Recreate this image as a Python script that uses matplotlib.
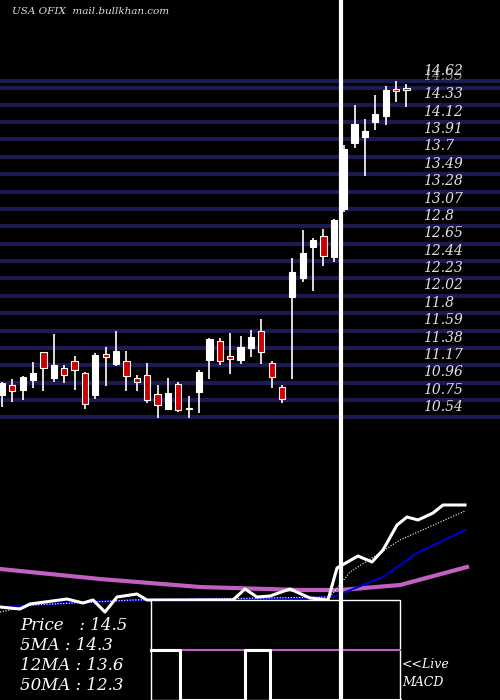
import matplotlib
matplotlib.use("Agg")
import matplotlib.pyplot as plt
import numpy as np

opens  = [10.709,10.830,10.770,10.890,11.228,10.915,11.035,11.120,10.975,10.709,11.204,11.084,11.120,10.915,10.951,10.721,10.540,10.842,10.540,10.746,
          11.132,11.361,11.180,11.132,11.277,11.482,11.096,10.806,11.892,12.122,12.496,12.628,12.375,12.954,13.751,13.824,14.004,14.077,14.403,14.415]
highs  = [10.866,10.902,10.939,11.108,11.228,11.446,11.072,11.180,10.987,11.216,11.289,11.482,11.241,10.951,11.096,10.830,10.915,10.866,10.697,11.011,
          11.397,11.397,11.458,11.421,11.494,11.627,11.120,10.830,12.363,12.701,12.604,12.713,12.834,13.727,14.210,14.041,14.330,14.439,14.499,14.463]
lows   = [10.565,10.625,10.649,10.794,10.758,10.866,10.854,10.770,10.540,10.661,10.818,11.059,10.758,10.758,10.613,10.432,10.540,10.504,10.432,10.492,
          10.902,11.072,10.963,11.084,11.168,11.084,10.794,10.613,10.902,12.073,11.965,12.266,12.315,12.918,13.691,13.353,13.908,13.968,14.246,14.186]
closes = [10.854,10.758,10.927,10.975,11.035,11.072,10.951,11.011,10.601,11.192,11.168,11.241,10.939,10.866,10.649,10.589,10.734,10.528,10.553,10.987,
          11.385,11.120,11.144,11.289,11.409,11.228,10.927,10.661,12.194,12.423,12.580,12.387,12.822,13.679,13.980,13.896,14.101,14.391,14.379,14.391]

price_labels = ["14.33","14.12","13.91","13.7","13.49","13.28","13.07","12.8","12.65","12.44",
                "12.23","12.02","11.8","11.59","11.38","11.17","10.96","10.75","10.54"]
top_grid = 14.213
grid_step = 0.2097
extra_lines = [14.50, 14.41]

# indicator panel (arbitrary units, x in pixel-like position units)
ma50_x = [0,100,200,300,340,400,467]
ma50_y = [131,121,113,110,110,115,133]
price_x = [0,20,30,67,83,93,105,117,137,147,233,245,257,270,290,310,328,337,358,372,383,397,407,418,433,443,465]
price_y = [93,91,96,101,97,100,88,103,106,100,100,111,103,104,111,102,100,132,144,138,150,175,183,180,187,195,195]
ma12_x = [0,67,133,300,333,383,417,465]
ma12_y = [93,97,100,102,103,123,147,170]
ma5_x = [0,33,133,330,350,400,465]
ma5_y = [88,95,100,103,128,160,189]
macd_x = [151,180,180,245,245,270,270,400]
macd_y = [50,50,0,0,50,50,0,0]
signal_y = 50

legend = ["Price   : 14.5", "5MA : 14.3", "12MA : 13.6", "50MA : 12.3"]

fig = plt.figure(figsize=(5,7), dpi=100, facecolor="black")
ax = fig.add_axes([0,0,1,1], facecolor="black")
sp = 10.37
ax.set_xlim(-2/sp, 498/sp)
ax.set_ylim(15.477-700/82.85, 15.477)
ax.axis("off")

for k in range(len(price_labels)):
    lv = top_grid - k*grid_step
    ax.axhline(lv, color="#1b1b52", lw=3, zorder=1)
    ax.text(423/sp*1 - 2/sp + 0, lv + 0.125, price_labels[k], color="#e0e0e0", fontsize=10,
            family="DejaVu Serif", style="italic", va="center", zorder=5)
for lv in extra_lines:
    ax.axhline(lv, color="#1b1b52", lw=3, zorder=1)
ax.text(421/sp, 14.62, "14.62", color="#e0e0e0", fontsize=10, family="DejaVu Serif", style="italic", va="center")
ax.text(421/sp, 14.56, "14.55", color="#e0e0e0", fontsize=10, family="DejaVu Serif", style="italic", va="center", alpha=0.6)

for i,(o,h,l,c) in enumerate(zip(opens,highs,lows,closes)):
    col = "white" if c >= o else "#cc0000"
    ax.vlines(i, l, h, color="white", lw=1.2, zorder=3)
    ax.bar(i, max(abs(c-o),0.015), bottom=min(o,c), width=0.6, color=col, edgecolor="white", lw=0.8, zorder=4)

ax.text(10/sp, 15.477-12/82.85, "USA OFIX  mail.bullkhan.com", color="#dddddd", fontsize=7.5,
        family="DejaVu Serif", style="italic", va="center")

ax2 = fig.add_axes([0,0,1,1], facecolor="none")
ax2.set_xlim(0,500); ax2.set_ylim(0,700)
ax2.axis("off")
ax2.plot(ma50_x, ma50_y, color="#c060c0", lw=3, zorder=2)
ax2.plot(ma12_x, ma12_y, color="#0000cc", lw=1.5, zorder=3)
ax2.plot(ma5_x, ma5_y, color="white", lw=0.8, ls=(0,(1,1.5)), zorder=3)
ax2.plot(price_x, price_y, color="white", lw=2.2, zorder=3)
ax2.add_patch(plt.Rectangle((151,0),249,100, facecolor="black", edgecolor="white", lw=1, zorder=5))
ax2.plot([151,400],[signal_y,signal_y], color="#c060c0", lw=1.5, zorder=6)
ax2.plot(macd_x, macd_y, color="white", lw=2.2, zorder=7)
ax2.axvline(341, color="white", lw=3, zorder=8)
for j,t in enumerate(legend):
    ax2.text(20, 75-20*j, t, color="white", fontsize=12, family="DejaVu Serif", style="italic", va="center", zorder=9)
ax2.text(402, 35, "<<Live", color="white", fontsize=9, family="DejaVu Serif", style="italic", va="center", zorder=9)
ax2.text(402, 18, "MACD", color="white", fontsize=9, family="DejaVu Serif", style="italic", va="center", zorder=9)

fig.savefig("out.png", dpi=100, facecolor="black")
